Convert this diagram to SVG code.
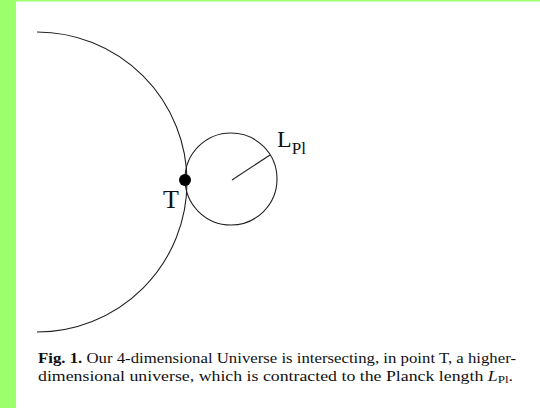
<svg xmlns="http://www.w3.org/2000/svg" width="540" height="408" viewBox="0 0 540 408">
<style>
.ln{fill:none;stroke:#222;stroke-width:1.1}
.lab{font-family:"Liberation Serif","Times New Roman",serif;fill:#111}
.cap{font-family:"Liberation Serif","Times New Roman",serif;font-size:15px;fill:#111}
</style>
<rect x="0" y="0" width="540" height="408" fill="#ffffff"/>
<rect x="0" y="0" width="540" height="1.5" fill="#9cff6c"/>
<rect x="0" y="0" width="16" height="408" fill="#9cff6c"/>
<g id="universe">
<path class="ln" d="M 37 32 A 150 150 0 0 1 37 332"/>
</g>
<g id="planck-universe">
<circle class="ln" cx="231" cy="179" r="46"/>
<line class="ln" x1="232" y1="180" x2="270" y2="155"/>
</g>
<g id="point-T">
<circle cx="185" cy="180" r="6" fill="#000"/>
<text class="lab" x="163" y="208" font-size="26">T</text>
</g>
<g id="label-LPl">
<text class="lab" x="277" y="147" font-size="24">L<tspan font-size="17" dy="7">Pl</tspan></text>
</g>
<g id="caption">
<text class="cap" x="38" y="363" textLength="478" lengthAdjust="spacingAndGlyphs"><tspan font-weight="bold">Fig. 1.</tspan> Our 4-dimensional Universe is intersecting, in point T, a higher-</text>
<text class="cap" x="38" y="381" textLength="475" lengthAdjust="spacingAndGlyphs">dimensional universe, which is contracted to the Planck length <tspan font-style="italic">L</tspan><tspan font-size="11" dy="2">Pl</tspan><tspan dy="-2">.</tspan></text>
</g>
</svg>
